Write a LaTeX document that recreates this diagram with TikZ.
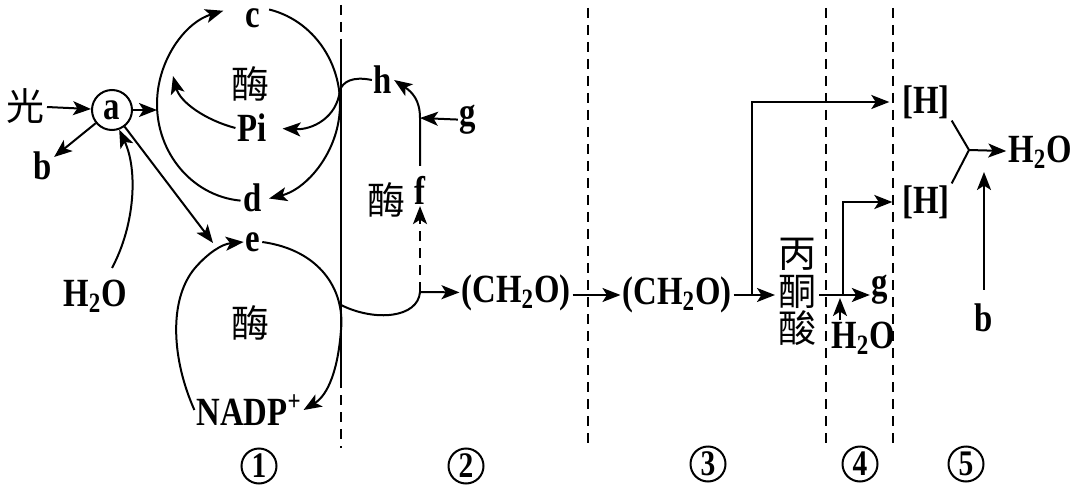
\documentclass[tikz,border=0pt]{standalone}
\usepackage{fontspec}
\setmainfont{Liberation Serif}[FakeStretch=0.82]
\newfontfamily\cjk{Noto Sans CJK SC}
\usetikzlibrary{arrows.meta}

\begin{document}
\begin{tikzpicture}[x=0.5pt,y=-0.5pt,line width=1pt,
        >={Stealth[length=9pt,width=7pt,inset=2.2pt]},
        lbl/.style={inner sep=0.5pt,font=\bfseries\fontsize{20}{22}\selectfont},
        zh/.style={inner sep=1pt,font=\cjk\fontsize{19}{18.75}\selectfont},
        num/.style={draw,circle,line width=1pt,minimum size=17.5pt,inner sep=0pt,
            font=\bfseries\fontsize{18}{18}\selectfont},
        sep/.style={dash pattern=on 5pt off 3.5pt}]
        \useasboundingbox (0,0) rectangle (1080,486);

        % separators
        \draw[sep] (341,5) -- (341,48);
        \draw (341,48) -- (341,378);
        \draw[sep] (341,378) -- (341,448);
        \foreach \xs in {588,826,893}
            \draw[sep] (\xs,8) -- (\xs,448);

        % light reaction
        \node[zh] (guang) at (25,106) {光};
        \node[lbl,draw,circle,minimum size=20pt,inner sep=0pt] (a) at (112,110) {a};
        \node[lbl] (b) at (43,166) {b};
        \node[lbl] (h2oA) at (95,296) {H\textsubscript{2}O};
        \coordinate (cl) at (157,110);
        \coordinate (ein) at (213,243);
        \coordinate (wa) at (112,268);
        \draw[->] (guang) -- (a);
        \draw[->] (a) -- (cl);
        \draw[->] (a) -- (b);
        \draw[->] (a) -- (ein);
        \draw[->] (wa) .. controls (135,225) and (138,170) .. (a.-70);

        \node[lbl] (c) at (253,18) {c};
        \node[lbl] (d) at (253,198) {d};
        \node[zh] (mei1) at (250,84) {酶};
        \node[lbl] (pi) at (252,128) {Pi};
        \coordinate (o1) at (248.5,104);
        \draw[->] ([shift={(265:45.75pt and 48.5pt)}]o1)
            arc[start angle=265,end angle=106,x radius=45.75pt,y radius=48.5pt];
        \draw[->] ([shift={(77:45.75pt and 48.5pt)}]o1)
            arc[start angle=77,end angle=-77,x radius=45.75pt,y radius=48.5pt];

        \node[lbl] (h) at (383,80) {h};
        \coordinate (jr) at (340,90);
        \draw (h.west) .. controls (352,76) and (343,82) .. (jr);
        \draw[->,shorten >=7pt] (jr) .. controls (337,118) and (312,130) .. (pi.east);
        \draw[->] (pi.west) .. controls (205,120) and (180,102) .. (173,76);

        \node[lbl] (e) at (253,242) {e};
        \node[lbl] (nadp) at (249,410) {NADP\textsuperscript{+}};
        \node[zh] (mei2) at (250,323) {酶};
        \draw[->] (e.east) .. controls (320,250) and (345,290) .. (341,330)
            .. controls (338,370) and (328,395) .. (nadp.east);
        \draw[->] (nadp.west) .. controls (172,360) and (168,300) .. (195,268)
            .. controls (208,253) and (222,244) .. (e.west);

        % dark reaction
        \coordinate (jl) at (341,305);
        \coordinate (jm) at (420,292);
        \node[lbl] (ch1) at (516,293) {(CH\textsubscript{2}O)};
        \node[lbl] (f) at (420,190) {f};
        \node[zh] (mei3) at (386,200) {酶};
        \node[lbl] (g1) at (468,120) {g};
        \coordinate (fg) at (420,118);
        \draw (jl) .. controls (375,322) and (418,318) .. (jm);
        \draw[->] (jm) -- (ch1);
        \draw[->,sep] (jm) -- (f);
        \draw[->,shorten <=4pt] (f.north) -- (fg) .. controls (420,100) and (412,92) .. (h.east);
        \draw[->] (g1) -- (fg);

        % respiration
        \node[lbl] (ch2) at (677,295) {(CH\textsubscript{2}O)};
        \node[zh,align=center] (pyr) at (797,292) {丙\\酮\\酸};
        \node[lbl] (g2) at (880,290) {g};
        \node[lbl] (h2oB) at (863,338) {H\textsubscript{2}O};
        \node[lbl] (hu) at (926,102) {[H]};
        \node[lbl] (hl) at (926,202) {[H]};
        \node[lbl] (h2oC) at (1040,152) {H\textsubscript{2}O};
        \node[lbl] (b2) at (984,318) {b};
        \coordinate (j3) at (752,295);
        \coordinate (j4) at (843,295);
        \coordinate (j5) at (840,298);
        \coordinate (yj) at (969,150);
        \coordinate (bt) at (984,172);
        \draw[->] (ch1.east |- ch2.east) -- (ch2.west);
        \draw[->] (ch2.east) -- (ch2.east -| pyr.west);
        \draw[->,shorten >=5.5pt] (j3) |- (hu.west);
        \draw[->] (pyr.east |- j4) -- (j4) -- (j4 -| g2.west);
        \draw[->,shorten >=4pt] (j4) |- (hl.west);
        \draw[->] (h2oB.north -| j5) -- (j5);
        \draw (hu.south east) -- (yj);
        \draw (hl.north east) -- (yj);
        \draw[->] (yj) -- (h2oC);
        \draw[->,shorten <=6pt] (b2.north) -- (bt);

        \node[num] (n1) at (259,466) {1};
        \node[num] (n2) at (466,466) {2};
        \node[num] (n3) at (708,464) {3};
        \node[num] (n4) at (860,464) {4};
        \node[num] (n5) at (966,464) {5};
\end{tikzpicture}
\end{document}
